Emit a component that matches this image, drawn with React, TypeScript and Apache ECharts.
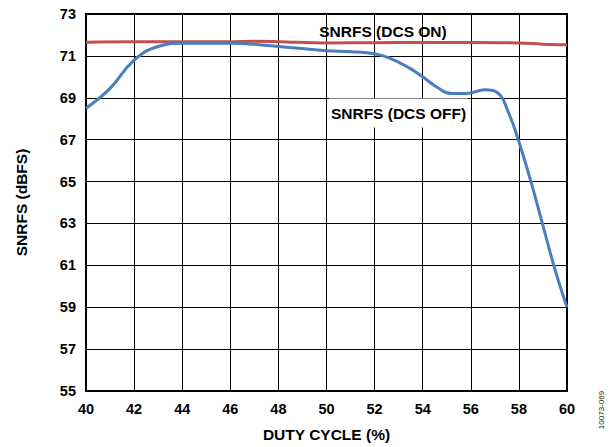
import React, { useEffect, useRef } from "react";
import * as echarts from "echarts";

const dcsOffX = [40, 41, 42, 43, 44, 46, 48, 50, 51, 52, 52.6, 53.4, 54, 54.6, 55.2, 55.8, 56.6, 57.1, 57.6, 58, 58.5, 59, 59.5, 60];
const dcsOffY = [68.5, 69.45, 70.8, 71.45, 71.6, 71.6, 71.45, 71.25, 71.2, 71.1, 70.9, 70.45, 70.0, 69.5, 69.2, 69.2, 69.38, 69.25, 68.2, 66.9, 65.0, 62.9, 60.8, 59.0];

const dcsOnX = [40, 42, 44, 46, 47, 48, 50, 52, 54, 56, 58, 59, 60];
const dcsOnY = [71.65, 71.67, 71.67, 71.68, 71.7, 71.68, 71.62, 71.63, 71.64, 71.64, 71.62, 71.56, 71.53];

const FONT = "'Liberation Sans', Arial, Helvetica, sans-serif";

export default function App() {
  const ref = useRef<HTMLDivElement>(null);
  useEffect(() => {
    if (!ref.current) return;
    const chart = echarts.init(ref.current, null, { renderer: "svg" });
    const off = dcsOffX.map((x, i) => [x, dcsOffY[i]]);
    const on = dcsOnX.map((x, i) => [x, dcsOnY[i]]);
    chart.setOption({
      animation: false,
      backgroundColor: "#fff",
      textStyle: { fontFamily: FONT },
      grid: {
        left: 86,
        right: 43,
        top: 14,
        bottom: 54,
        show: true,
        borderColor: "#000",
        borderWidth: 2,
        backgroundColor: "transparent",
      },
      xAxis: {
        type: "value",
        min: 40,
        max: 60,
        interval: 2,
        name: "DUTY CYCLE (%)",
        nameLocation: "middle",
        nameGap: 35,
        nameTextStyle: { fontFamily: FONT, fontWeight: "bold", fontSize: 15.5, color: "#000" },
        axisLine: { show: false },
        axisTick: { show: false },
        axisLabel: { margin: 10, fontFamily: FONT, fontWeight: "bold", fontSize: 14.5, color: "#000" },
        splitLine: { show: true, lineStyle: { color: "#000", width: 1 } },
      },
      yAxis: {
        type: "value",
        min: 55,
        max: 73,
        interval: 2,
        name: "SNRFS (dBFS)",
        nameLocation: "middle",
        nameGap: 57,
        nameTextStyle: { fontFamily: FONT, fontWeight: "bold", fontSize: 15.5, color: "#000" },
        axisLine: { show: false },
        axisTick: { show: false },
        axisLabel: { margin: 10, fontFamily: FONT, fontWeight: "bold", fontSize: 14.5, color: "#000" },
        splitLine: { show: true, lineStyle: { color: "#000", width: 1 } },
      },
      series: [
        {
          name: "SNRFS (DCS ON)",
          type: "line",
          data: on,
          smooth: 0.4,
          showSymbol: false,
          lineStyle: { color: "#c0504d", width: 3 },
          z: 3,
        },
        {
          name: "SNRFS (DCS OFF)",
          type: "line",
          data: off,
          smooth: 0.45,
          showSymbol: false,
          lineStyle: { color: "#4a7ebf", width: 3 },
          z: 4,
        },
      ],
      graphic: [
        {
          type: "text",
          x: 383,
          y: 31,
          style: {
            text: "SNRFS (DCS ON)",
            fontFamily: FONT,
            fontWeight: "bold",
            fontSize: 15.5,
            fill: "#000",
            align: "center",
            verticalAlign: "middle",
          },
          z: 10,
        },
        {
          type: "text",
          x: 398.5,
          y: 113,
          style: {
            text: "SNRFS (DCS OFF)",
            fontFamily: FONT,
            fontWeight: "bold",
            fontSize: 15.5,
            fill: "#000",
            align: "center",
            verticalAlign: "middle",
            backgroundColor: "#fff",
            padding: [7, 2, 6, 2],
          },
          z: 10,
        },
        {
          type: "text",
          x: 601,
          y: 410,
          rotation: Math.PI / 2,
          style: {
            text: "10073-069",
            fontFamily: FONT,
            fontSize: 8,
            fill: "#222",
            align: "center",
            verticalAlign: "middle",
          },
          z: 10,
        },
      ],
    });
    return () => chart.dispose();
  }, []);
  return (
    <div
      ref={ref}
      style={{ position: "fixed", left: 0, top: 0, width: 610, height: 447, background: "#fff" }}
    />
  );
}
